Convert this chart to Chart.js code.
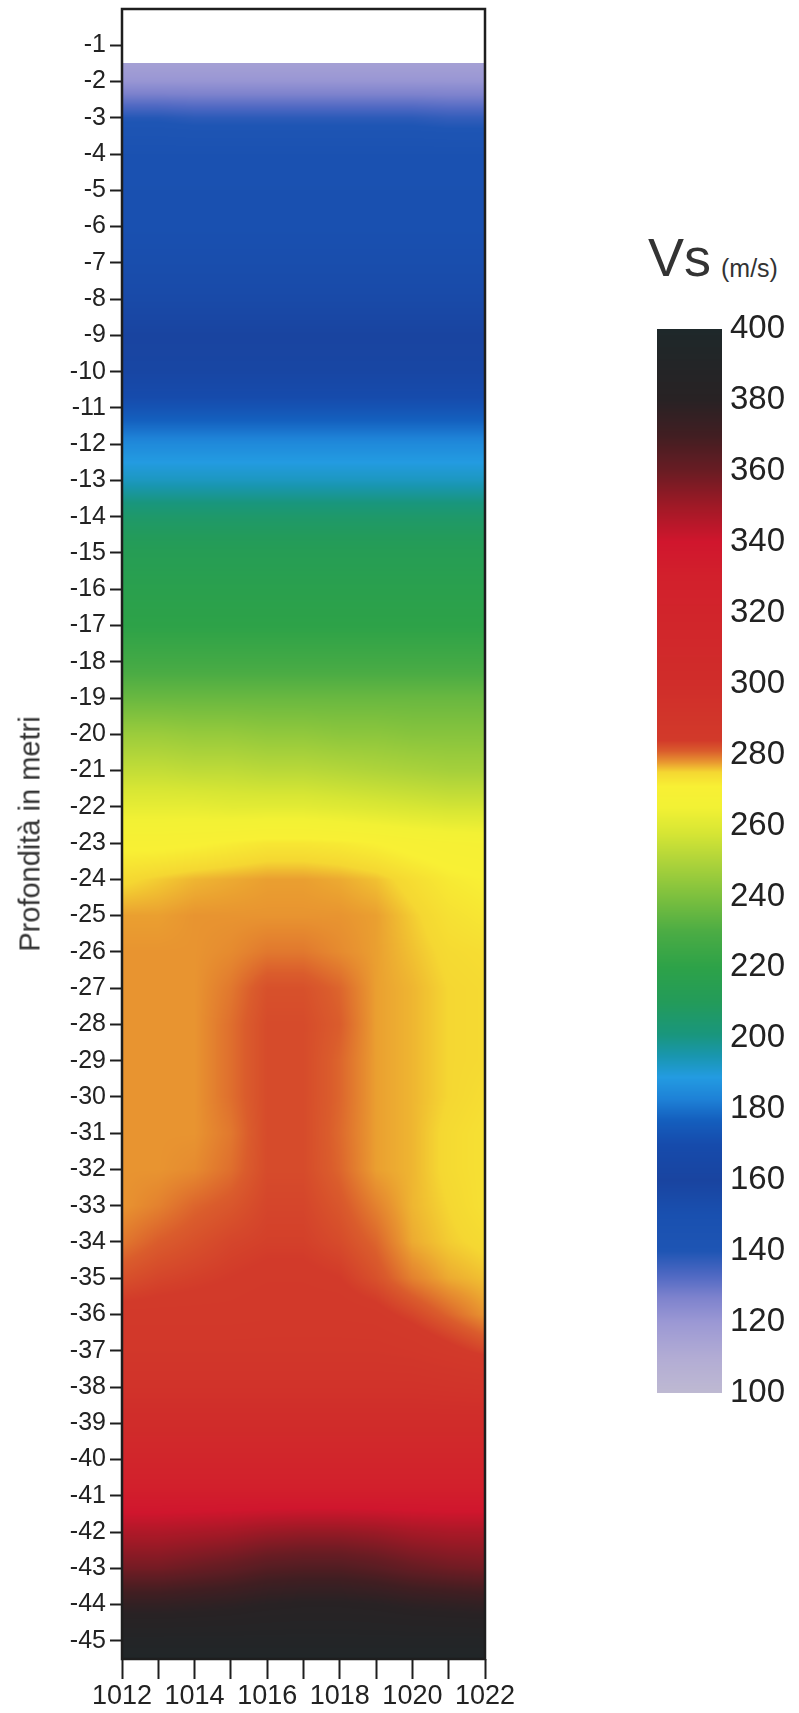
<!DOCTYPE html>
<html><head><meta charset="utf-8">
<script src="https://cdn.jsdelivr.net/npm/chart.js@4.4.1/dist/chart.umd.min.js"></script>
<style>
html,body{margin:0;padding:0;background:#fff;}
body{width:799px;height:1713px;position:relative;overflow:hidden;font-family:'Liberation Sans',Arial,sans-serif;color:#222;}
#main{position:absolute;left:0;top:0;}
#cbar{position:absolute;left:600px;top:300px;}
.ytitle{position:absolute;left:30px;top:834px;transform:translate(-50%,-50%) rotate(-90deg);font-size:29px;line-height:29px;white-space:nowrap;color:#333;}
.vs{position:absolute;left:648px;top:230px;font-size:54px;line-height:54px;color:#333;}
.unit{position:absolute;left:721px;top:256px;font-size:25px;line-height:25px;color:#333;}
</style>
</head><body>
<canvas id="main" width="560" height="1713"></canvas>
<canvas id="cbar" width="199" height="1130"></canvas>
<div class="ytitle">Profondità in metri</div>
<div class="vs">Vs</div>
<div class="unit">(m/s)</div>
<script>
// ---- data ----
const xNodes = [1012,1013,1014,1015,1016,1017,1018,1019,1020,1021,1022];
const depthNodes = [-1.5,-2,-3,-4,-5,-6,-7,-8,-9,-10,-11,-12,-13,-14,-15,-16,-17,-18,-19,-20,-21,-22,-23,-24,-25,-26,-27,-28,-29,-30,-31,-32,-33,-34,-35,-36,-37,-38,-39,-40,-41,-42,-43,-44,-45,-45.5];
const vsRows = [
 [116,116,116,116,116,116,116,116,116,116,116],
 [121,121,121,121,121,121,121,121,121,121,121],
 [139,139,138,138,138,138,138,138,138,137,137],
 [147,147,147,147,147,147,147,147,147,147,147],
 [149,149,149,149,149,149,149,149,149,149,149],
 [150,150,150,150,150,150,150,150,150,150,150],
 [152,152,152,152,152,152,152,152,152,152,152],
 [155,155,155,155,155,155,155,155,155,155,155],
 [160,160,160,160,160,160,160,160,160,160,160],
 [163,163,163,163,163,163,163,163,163,163,163],
 [173,173,173,173,173,173,173,173,173,173,173],
 [185,185,185,185,185,185,185,185,185,185,185],
 [193,193,193,193,193,193,193,193,193,193,193],
 [206,206,206,206,206,206,206,206,206,206,206],
 [213,213,213,213,213,213,213,213,213,213,213],
 [217,217,217,217,217,217,217,217,217,217,217],
 [220,220,220,220,220,220,220,220,220,220,220],
 [227,227,227,227,227,227,227,227,227,227,227],
 [236,236,236,236,236,236,236,236,236,236,236],
 [246,246,245,245,244,244,243,243,242,242,242],
 [254,254,253,253,252,252,251,250,249,248,248],
 [262,262,262,261,261,261,260,259,258,257,257],
 [270,270,270.5,271.5,272.5,272.5,272,271,269.5,268.5,268],
 [274.5,275.5,276.5,277,277.5,277.5,277,276,274,272,271],
 [277.5,277.5,278,278,278,278,278,277.5,275.5,273.5,272.5],
 [278,278,278,278.5,279.5,279.5,278.5,277.5,276,274.5,274],
 [278,278,278,279.5,282,282,280.5,277.5,276.5,275,274.5],
 [278,278,278,280,282.5,282.5,281,277.5,276.5,275,274.5],
 [278,278,278,280,282.5,282.5,280.5,277.5,276.5,275,274.5],
 [278,278,278,280,282.5,282.5,280.5,277.5,276.5,275,274],
 [278,278,278,279.5,282.5,282.5,280.3,277.5,276.5,274.5,273.5],
 [278,278,278.5,280,282.5,282.5,280.5,277.5,276.5,274.5,273.5],
 [278,279,280.5,281.5,283,283,281.5,279,276.5,275,273.5],
 [279.5,281,282,283,283.5,283.5,282.5,280.5,277,275.5,274.5],
 [282,283,283.5,284,284.5,284.5,284,282,279,277,276],
 [285,285,285,285,285.5,285.5,285.5,285,283,280.5,278],
 [288,288,288,288,288,288,288,288,287,285,283],
 [293,293,293,293,293,293,293,293,293,292,291],
 [302,302,302,302,302,302,302,302,302,302,302],
 [318,318,318,318,318,318,318,318,318,318,318],
 [334,334,334,334,334,334,334,334,334,334,334],
 [347,347,348,349,351,352,352,351,349,348,348],
 [358,358,360,362,365,366,366,364,361,359,358],
 [376,376,377,378,380,381,381,380,378,377,376],
 [390,390,390,390,390,390,390,390,390,390,390],
 [394,394,394,394,394,394,394,394,394,394,394]
];
const xTickValues = [1012,1013,1014,1015,1016,1017,1018,1019,1020,1021,1022];
const yTickValues = [-1,-2,-3,-4,-5,-6,-7,-8,-9,-10,-11,-12,-13,-14,-15,-16,-17,-18,-19,-20,-21,-22,-23,-24,-25,-26,-27,-28,-29,-30,-31,-32,-33,-34,-35,-36,-37,-38,-39,-40,-41,-42,-43,-44,-45];
const cbTickValues = [100,120,140,160,180,200,220,240,260,280,300,320,340,360,380,400];
// colour scale (Vs m/s -> rgb)
const cmapStops = [100,110,120,127,133,140,150,160,170,177,183,189,195,201,210,220,230,240,250,258,265,271,275,278,281,284,300,330,340,350,360,370,380,400];
const cmapColors = [[190,185,210],[178,172,212],[155,152,212],[125,130,205],[80,105,195],[30,85,180],[25,80,176],[25,68,160],[22,75,172],[20,95,190],[30,130,215],[35,155,225],[25,150,175],[25,150,125],[35,155,90],[45,162,72],[75,172,68],[125,192,62],[175,212,58],[215,230,52],[242,241,52],[248,240,52],[245,215,50],[232,148,48],[218,92,44],[210,58,42],[208,45,42],[210,32,44],[208,22,45],[160,25,38],[105,28,35],[65,30,34],[40,34,36],[30,40,42]];

function cmap(v){
  if (v <= cmapStops[0]) return cmapColors[0];
  const n = cmapStops.length;
  if (v >= cmapStops[n-1]) return cmapColors[n-1];
  let k = 0; while (k < n-2 && v > cmapStops[k+1]) k++;
  const t = (v - cmapStops[k]) / (cmapStops[k+1] - cmapStops[k]);
  const a = cmapColors[k], b = cmapColors[k+1];
  return [a[0]+(b[0]-a[0])*t, a[1]+(b[1]-a[1])*t, a[2]+(b[2]-a[2])*t];
}
function sampleGrid(xv, d){
  let m = 0; while (m < xNodes.length-2 && xv > xNodes[m+1]) m++;
  let k = 0; while (k < depthNodes.length-2 && d < depthNodes[k+1]) k++;
  let tx = (xv - xNodes[m])/(xNodes[m+1]-xNodes[m]); tx = Math.max(0, Math.min(1, tx));
  let ty = (depthNodes[k]-d)/(depthNodes[k]-depthNodes[k+1]); ty = Math.max(0, Math.min(1, ty));
  const r0 = vsRows[k], r1 = vsRows[k+1];
  const top = r0[m] + (r0[m+1]-r0[m])*tx;
  const bot = r1[m] + (r1[m+1]-r1[m])*tx;
  return top + (bot-top)*ty;
}

const cells = [];
depthNodes.forEach((d,k)=>xNodes.forEach((x,m)=>cells.push({x:x, y:d, v:vsRows[k][m]})));

const heatPlugin = {
  id:'heat',
  beforeDatasetsDraw(chart){
    const {ctx, scales:{x, y}} = chart;
    const px0 = Math.round(x.getPixelForValue(xNodes[0]));
    const px1 = Math.round(x.getPixelForValue(xNodes[xNodes.length-1]));
    const py0 = Math.round(y.getPixelForValue(depthNodes[0]));
    const py1 = Math.round(y.getPixelForValue(depthNodes[depthNodes.length-1]));
    const w = px1-px0, h = py1-py0;
    const off = document.createElement('canvas'); off.width = w; off.height = h;
    const octx = off.getContext('2d');
    const img = octx.createImageData(w, h);
    for (let j=0;j<h;j++){
      const d = y.getValueForPixel(py0+j+0.5);
      for (let i=0;i<w;i++){
        const xv = x.getValueForPixel(px0+i+0.5);
        const c = cmap(sampleGrid(xv, d));
        const o = (j*w+i)*4;
        img.data[o]=c[0]; img.data[o+1]=c[1]; img.data[o+2]=c[2]; img.data[o+3]=255;
      }
    }
    octx.putImageData(img,0,0);
    ctx.drawImage(off, px0, py0);
  },
  afterDraw(chart){
    const {ctx, chartArea:a} = chart;
    ctx.save(); ctx.strokeStyle='#1e1e1e'; ctx.lineWidth=2.5;
    ctx.strokeRect(a.left, a.top, a.right-a.left, a.bottom-a.top);
    ctx.restore();
  }
};

Chart.defaults.font.family = "'Liberation Sans', Arial, sans-serif";
Chart.defaults.color = '#222';

new Chart(document.getElementById('main'), {
  type:'scatter',
  data:{datasets:[{data:cells, pointRadius:0, pointHoverRadius:0, showLine:false}]},
  options:{
    responsive:false, animation:false, events:[],
    layout:{padding:{top:9,right:75,bottom:0,left:0}},
    plugins:{legend:{display:false}, tooltip:{enabled:false}},
    scales:{
      x:{type:'linear', min:1012, max:1022,
         afterBuildTicks:s=>{s.ticks = xTickValues.map(v=>({value:v}));},
         afterFit:s=>{s.height = 54; s.paddingLeft = 0; s.paddingRight = 0;},
         ticks:{autoSkip:false, maxRotation:0, minRotation:0, padding:1, color:'#222', font:{size:27},
                callback:v=> (v % 2 === 0 ? String(v) : '')},
         grid:{drawOnChartArea:false, drawTicks:true, tickLength:20, tickWidth:2, tickColor:'#1e1e1e', color:'#1e1e1e'},
         border:{display:false}},
      y:{type:'linear', min:-45.5, max:0,
         afterBuildTicks:s=>{s.ticks = yTickValues.map(v=>({value:v}));},
         afterFit:s=>{s.width = 122; s.paddingTop = 0; s.paddingBottom = 0;},
         ticks:{autoSkip:false, padding:4, color:'#222', font:{size:25}, callback:v=>String(v)},
         grid:{drawOnChartArea:false, drawTicks:true, tickLength:12, tickWidth:2, tickColor:'#1e1e1e', color:'#1e1e1e'},
         border:{display:false}}
    }
  },
  plugins:[heatPlugin]
});

const cbPlugin = {
  id:'cb',
  beforeDatasetsDraw(chart){
    const {ctx, chartArea:a, scales:{y}} = chart;
    for (let py=Math.round(a.top); py<Math.round(a.bottom); py++){
      const c = cmap(y.getValueForPixel(py+0.5));
      ctx.fillStyle = 'rgb('+Math.round(c[0])+','+Math.round(c[1])+','+Math.round(c[2])+')';
      ctx.fillRect(a.left, py, a.right-a.left, 1);
    }
  }
};
new Chart(document.getElementById('cbar'), {
  type:'scatter',
  data:{datasets:[{data:cbTickValues.map(v=>({x:0.5,y:v})), pointRadius:0, pointHoverRadius:0}]},
  options:{
    responsive:false, animation:false, events:[],
    layout:{padding:{top:29,right:0,bottom:37,left:57}},
    plugins:{legend:{display:false}, tooltip:{enabled:false}},
    scales:{
      x:{type:'linear', min:0, max:1, display:false},
      y:{type:'linear', position:'right', min:100, max:400,
         afterBuildTicks:s=>{s.ticks = cbTickValues.map(v=>({value:v}));},
         afterFit:s=>{s.width = 77; s.paddingTop = 0; s.paddingBottom = 0;},
         ticks:{autoSkip:false, padding:8, color:'#222', font:{size:33}, callback:v=>String(v)},
         grid:{display:false, drawTicks:false},
         border:{display:false}}
    }
  },
  plugins:[cbPlugin]
});
</script>
</body></html>
